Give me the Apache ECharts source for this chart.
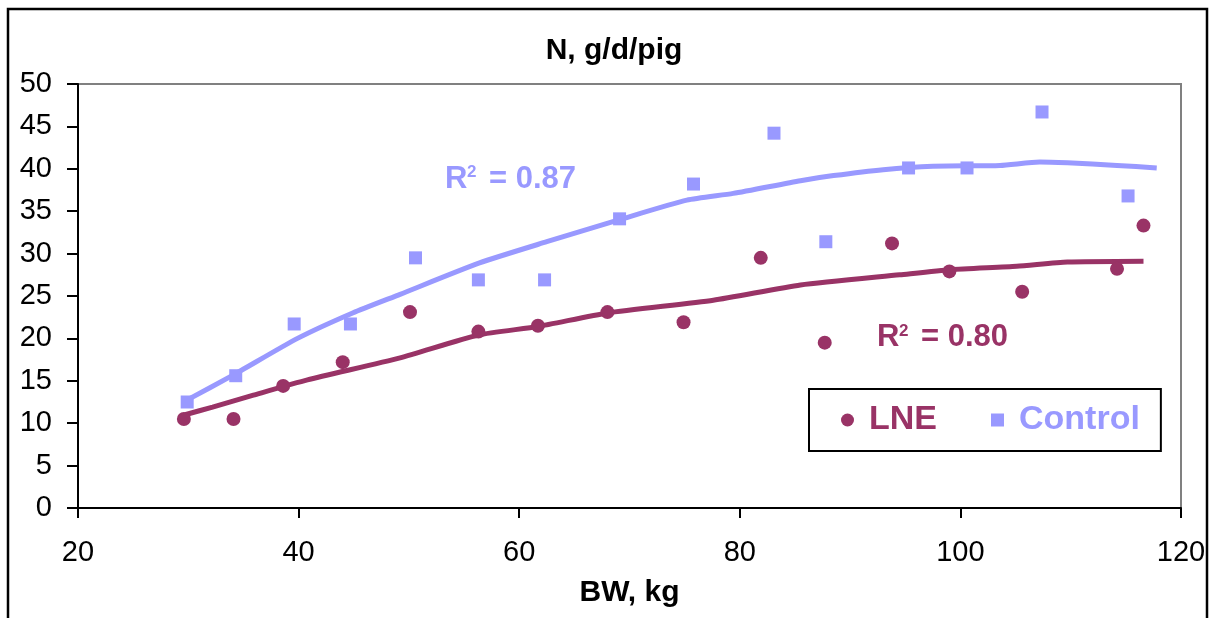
<!DOCTYPE html>
<html><head><meta charset="utf-8">
<script src="https://cdn.jsdelivr.net/npm/echarts@6/dist/echarts.min.js"></script>
<style>html,body{margin:0;padding:0;background:#fff}#c{width:1210px;height:618px}</style>
</head><body><div id="c"></div>
<script>
var lneX = [29.6, 34.1, 38.6, 44.0, 50.1, 56.3, 61.7, 68.0, 74.9, 81.9, 87.7, 93.8, 99.0, 105.6, 114.2, 116.6];
var lneY = [10.5, 10.5, 14.4, 17.2, 23.1, 20.8, 21.5, 23.1, 21.9, 29.5, 19.5, 31.2, 27.9, 25.5, 28.2, 33.3];
var ctlX = [29.9, 34.3, 39.6, 44.7, 50.6, 56.3, 62.3, 69.1, 75.8, 83.1, 87.8, 95.3, 100.6, 107.4, 115.2];
var ctlY = [12.5, 15.6, 21.7, 21.7, 29.5, 26.9, 26.9, 34.1, 38.2, 44.2, 31.4, 40.1, 40.1, 46.7, 36.8];
var lneTrendX = [29.7, 32.2, 35.9, 40.8, 49.2, 56.3, 61.7, 68.0, 77.6, 85.5, 94.5, 99.1, 105.1, 109.7, 116.6];
var lneTrendY = [11.0, 11.9, 13.3, 15.1, 17.7, 20.4, 21.4, 23.0, 24.5, 26.3, 27.5, 28.1, 28.5, 29.0, 29.1];
var ctlTrendX = [29.7, 34.1, 39.9, 44.9, 49.2, 56.4, 62.5, 69.1, 75.2, 79.4, 85.5, 88.5, 93.0, 97.5, 103.6, 107.2, 109.7, 114.2, 117.8];
var ctlTrendY = [12.6, 15.7, 20.0, 23.0, 25.2, 28.9, 31.4, 34.0, 36.3, 37.1, 38.6, 39.2, 39.9, 40.3, 40.4, 40.8, 40.7, 40.4, 40.1];
var xTicks = [20, 40, 60, 80, 100, 120];
var yTicks = [0, 5, 10, 15, 20, 25, 30, 35, 40, 45, 50];
var seriesNames = ['LNE', 'Control'];
var r2Labels = ['0.80', '0.87'];

function pairs(xs, ys){ return xs.map(function(x,i){ return [x, ys[i]]; }); }
var LNE_C = '#993366', CTL_C = '#9999FF';
var chart = echarts.init(document.getElementById('c'), null, {renderer:'canvas'});
var fam = 'Arial, "Liberation Sans", sans-serif';
function r2Group(x, yCap, ySup, val, color){
  return {type:'group', z:10, silent:true, children:[
    {type:'text', style:{x:x, y:yCap, text:'R', font:'bold 31px ' + fam, fill:color, verticalAlign:'middle'}},
    {type:'text', style:{x:x+22, y:ySup, text:'2', font:'bold 17px ' + fam, fill:color, verticalAlign:'middle'}},
    {type:'text', style:{x:x+44, y:yCap, text:'= ' + val, font:'bold 31px ' + fam, fill:color, verticalAlign:'middle'}}
  ]};
}
chart.setOption({
  animation:false,
  backgroundColor:'#fff',
  title:{text:'N, g/d/pig', left:609, top:31, textAlign:'center',
    textStyle:{fontFamily:fam, fontWeight:'bold', fontSize:30, color:'#000'}},
  grid:{left:78, top:84, right:29, bottom:110, show:true, borderColor:'#808080', borderWidth:2, backgroundColor:'#fff'},
  legend:{
    data:[{name:seriesNames[0], icon:'circle', textStyle:{color:LNE_C}},{name:seriesNames[1], icon:'rect', textStyle:{color:CTL_C}}],
    left:809, top:389, itemWidth:13, itemHeight:13, itemGap:54,
    padding:[14,21,14,32], borderColor:'#000', borderWidth:2, backgroundColor:'#fff',
    textStyle:{fontFamily:fam, fontWeight:'bold', fontSize:34, padding:[0,0,0,10]}
  },
  xAxis:{type:'value', min:xTicks[0], max:xTicks[xTicks.length-1], interval:20,
    name:'BW, kg', nameLocation:'middle', nameGap:70,
    nameTextStyle:{fontFamily:fam, fontWeight:'bold', fontSize:30, color:'#000'},
    axisLine:{lineStyle:{color:'#000', width:2}}, axisTick:{length:10, lineStyle:{color:'#000', width:2}},
    axisLabel:{fontFamily:fam, fontSize:29, color:'#000', margin:30}, splitLine:{show:false}},
  yAxis:{type:'value', min:yTicks[0], max:yTicks[yTicks.length-1], interval:5,
    axisLine:{show:true, lineStyle:{color:'#000', width:2}}, axisTick:{show:true, length:11, lineStyle:{color:'#000', width:2}},
    axisLabel:{fontFamily:fam, fontSize:29, color:'#000', margin:26}, splitLine:{show:false}},
  series:[
    {name:'LNE trend', type:'line', data:pairs(lneTrendX, lneTrendY), showSymbol:false, smooth:0.2,
      lineStyle:{color:LNE_C, width:5}, z:2, silent:true},
    {name:'Control trend', type:'line', data:pairs(ctlTrendX, ctlTrendY), showSymbol:false, smooth:0.2,
      lineStyle:{color:CTL_C, width:5}, z:2, silent:true},
    {name:seriesNames[0], type:'scatter', data:pairs(lneX, lneY), symbol:'circle', symbolSize:14, itemStyle:{color:LNE_C, opacity:1}, z:3},
    {name:seriesNames[1], type:'scatter', data:pairs(ctlX, ctlY), symbol:'rect', symbolSize:13, itemStyle:{color:CTL_C, opacity:1}, z:3}
  ],
  graphic:[
    {type:'rect', shape:{x:8, y:9, width:1199, height:640}, style:{fill:'none', stroke:'#000', lineWidth:2.5}, z:0, silent:true},
    r2Group(445, 179, 172, r2Labels[1], CTL_C),
    r2Group(877, 337, 331, r2Labels[0], LNE_C)
  ]
});
</script></body></html>
